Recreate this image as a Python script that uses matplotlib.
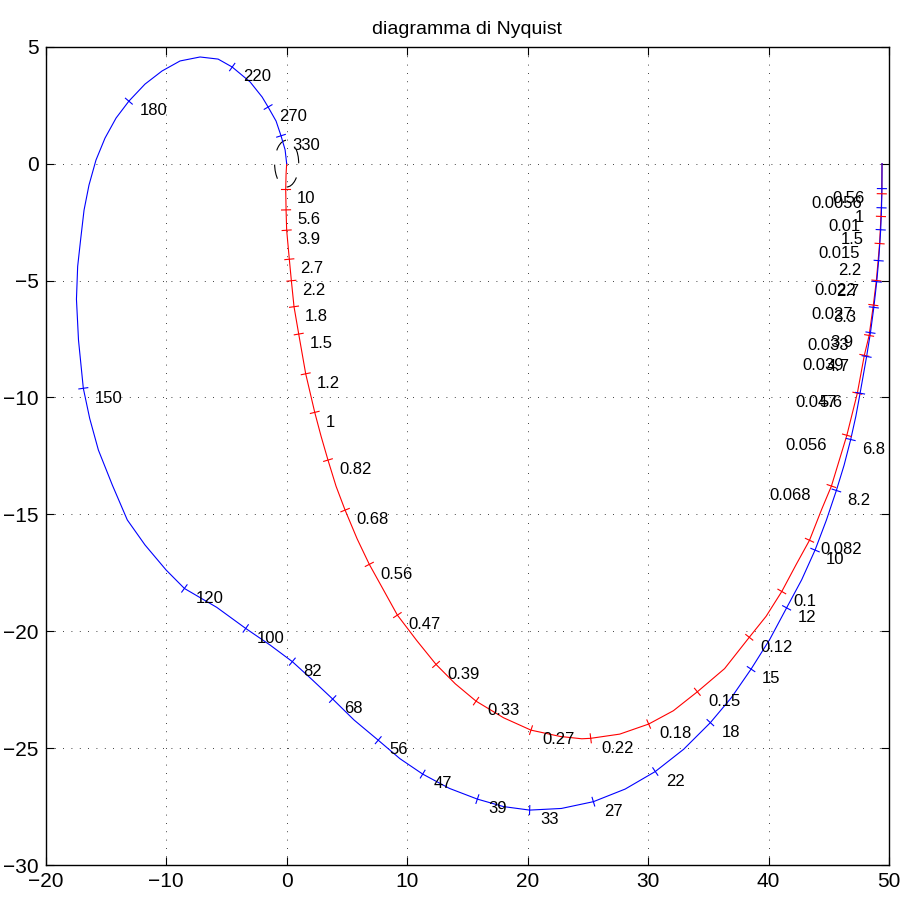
import numpy as np
import matplotlib.pyplot as plt
from matplotlib.patches import Circle

plt.rcParams['font.family'] = ['Liberation Sans Narrow', 'Liberation Sans', 'DejaVu Sans']

# red curve path (Re, Im), low to high frequency
red_re = [49.42, 49.40, 49.33, 49.22, 48.95, 48.70, 48.35, 47.95, 47.37, 46.50,
          45.22, 44.4, 43.40, 42.3, 41.1, 39.8, 38.40, 36.35, 34.09, 32.1,
          30.05, 27.65, 25.24, 24.5, 22.7, 20.28, 18.0, 15.72, 14.0, 12.40,
          10.8, 9.19, 8.0, 6.86, 5.85, 4.85, 4.1, 3.43, 2.85, 2.33,
          1.58, 1.00, 0.61, 0.39, 0.22, 0.00, -0.05, -0.08, -0.05, 0.0]
red_im = [0.0, -1.29, -2.26, -3.42, -5.00, -6.05, -7.35, -8.20, -9.82, -11.62,
          -13.79, -14.8, -16.11, -17.14, -18.3, -19.36, -20.26, -21.6, -22.59, -23.4,
          -23.97, -24.4, -24.58, -24.6, -24.5, -24.23, -23.7, -22.99, -22.25, -21.42,
          -20.4, -19.31, -18.2, -17.14, -16.05, -14.82, -13.8, -12.68, -11.65, -10.64,
          -8.99, -7.29, -6.12, -5.01, -4.09, -2.85, -1.98, -1.09, -0.45, 0.0]

# blue curve path (Re, Im)
blue_re = [49.42, 49.41, 49.38, 49.31, 49.14, 48.98, 48.74, 48.46, 48.14, 47.60,
           47.25, 46.82, 46.27, 45.63, 44.8, 43.86, 42.75, 41.5, 40.1, 38.55,
           36.9, 35.17, 32.95, 30.6, 28.1, 25.46, 22.8, 20.17, 18.0, 15.83,
           13.5, 11.29, 9.4, 7.6, 5.6, 3.82, 2.15, 0.47, -1.38, -3.4,
           -5.8, -8.49, -10.01, -11.76, -13.23, -14.47, -15.63, -16.35, -16.88, -17.28,
           -17.45, -17.35, -17.11, -16.82, -16.41, -15.83, -15.08, -14.16, -13.1, -11.76,
           -10.35, -8.85, -7.19, -5.69, -4.52, -3.03, -2.04, -1.54, -0.88, -0.47,
           -0.13, 0.0]
blue_im = [0.0, -1.07, -1.89, -2.83, -4.15, -5.05, -6.15, -7.23, -8.25, -9.82,
           -10.8, -11.80, -12.9, -13.98, -15.25, -16.53, -17.8, -19.0, -20.35, -21.62,
           -22.85, -23.91, -25.05, -26.0, -26.75, -27.29, -27.58, -27.65, -27.5, -27.18,
           -26.72, -26.11, -25.45, -24.66, -23.8, -22.9, -22.09, -21.3, -20.59, -19.88,
           -18.98, -18.17, -17.38, -16.31, -15.24, -13.75, -12.25, -10.9, -9.61, -7.55,
           -5.8, -4.4, -3.28, -1.99, -0.92, 0.15, 1.09, 1.95, 2.67, 3.40,
           3.96, 4.39, 4.56, 4.47, 4.13, 3.49, 2.85, 2.42, 1.82, 1.19,
           0.59, 0.0]

# frequency marks (rad/s) and where they sit on each curve
red_w = ['0.0056', '0.01', '0.015', '0.022', '0.027', '0.033', '0.039', '0.047',
         '0.056', '0.068', '0.082', '0.1', '0.12', '0.15', '0.18', '0.22', '0.27',
         '0.33', '0.39', '0.47', '0.56', '0.68', '0.82', '1', '1.2', '1.5', '1.8',
         '2.2', '2.7', '3.9', '5.6', '10']
red_w_re = [49.40, 49.33, 49.22, 48.95, 48.70, 48.35, 47.95, 47.37, 46.50, 45.22,
            43.40, 41.1, 38.40, 34.09, 30.05, 25.24, 20.28, 15.72, 12.40, 9.19,
            6.86, 4.85, 3.43, 2.33, 1.58, 1.00, 0.61, 0.39, 0.22, 0.00, -0.05, -0.08]
red_w_im = [-1.29, -2.26, -3.42, -5.00, -6.05, -7.35, -8.20, -9.82, -11.62, -13.79,
            -16.11, -18.3, -20.26, -22.59, -23.97, -24.58, -24.23, -22.99, -21.42, -19.31,
            -17.14, -14.82, -12.68, -10.64, -8.99, -7.29, -6.12, -5.01, -4.09, -2.85,
            -1.98, -1.09]

blue_w = ['0.56', '1', '1.5', '2.2', '2.7', '3.3', '3.9', '4.7', '5.6', '6.8', '8.2',
          '10', '12', '15', '18', '22', '27', '33', '39', '47', '56', '68', '82',
          '100', '120', '150', '180', '220', '270', '330']
blue_w_re = [49.41, 49.38, 49.31, 49.14, 48.98, 48.74, 48.46, 48.14, 47.60, 46.82, 45.63,
             43.86, 41.5, 38.55, 35.17, 30.6, 25.46, 20.17, 15.83, 11.29, 7.6, 3.82, 0.47,
             -3.4, -8.49, -16.88, -13.1, -4.52, -1.54, -0.47]
blue_w_im = [-1.07, -1.89, -2.83, -4.15, -5.05, -6.15, -7.23, -8.25, -9.82, -11.80, -13.98,
             -16.53, -19.0, -21.62, -23.91, -26.0, -27.29, -27.65, -27.18, -26.11, -24.66,
             -22.9, -21.3, -19.88, -18.17, -9.61, 2.67, 4.13, 2.42, 1.19]


fig = plt.figure(figsize=(9.02, 8.98), dpi=100)
ax = fig.add_axes([0.0507, 0.0367, 0.9349, 0.9113])
ax.set_xlim(-20, 50)
ax.set_ylim(-30, 5)
ax.set_xticks(range(-20, 51, 10))
ax.set_yticks(range(-30, 6, 5))
ax.tick_params(direction='in', length=6, width=0.8, labelsize=15, pad=5,
               top=True, right=True)
for s in ax.spines.values():
    s.set_linewidth(1.0)
ax.grid(True, color='black', linewidth=0.6, linestyle=(0, (1, 9)))
ax.set_title('diagramma di Nyquist', fontsize=14, pad=9)

ax.plot(red_re, red_im, color='red', lw=0.8)
ax.plot(blue_re, blue_im, color='blue', lw=0.8)

# dashed unit circle round the origin
ax.add_patch(Circle((0, 0), 1, fill=False, edgecolor='black', lw=0.8,
                    linestyle=(0, (13, 13))))


def mark_freqs(px, py, wx, wy, labels, color, n_left, left_gap):
    path = ax.transData.transform(np.column_stack([px, py]))
    pts = ax.transData.transform(np.column_stack([wx, wy]))
    inv = ax.transData.inverted()
    h = 4.5  # half length of the tick, pixels
    for k, (p, lab) in enumerate(zip(pts, labels)):
        i = int(np.argmin(np.hypot(*(path - p).T)))
        t = path[min(i + 1, len(path) - 1)] - path[max(i - 1, 0)]
        t = t / np.hypot(*t)
        n = np.array([-t[1], t[0]])
        seg = inv.transform(np.array([p - h * n, p + h * n]))
        ax.plot(seg[:, 0], seg[:, 1], color=color, lw=0.8)
        if k < n_left:
            ax.annotate(lab, (wx[k], wy[k]), xytext=(-left_gap, -7),
                        textcoords='offset points', ha='right', va='center', fontsize=12)
        else:
            ax.annotate(lab, (wx[k], wy[k]), xytext=(8, -7),
                        textcoords='offset points', ha='left', va='center', fontsize=12)


mark_freqs(red_re, red_im, red_w_re, red_w_im, red_w, 'red', 10, 14.5)
mark_freqs(blue_re, blue_im, blue_w_re, blue_w_im, blue_w, 'blue', 9, 12.5)

fig.savefig('out.png', dpi=100)
